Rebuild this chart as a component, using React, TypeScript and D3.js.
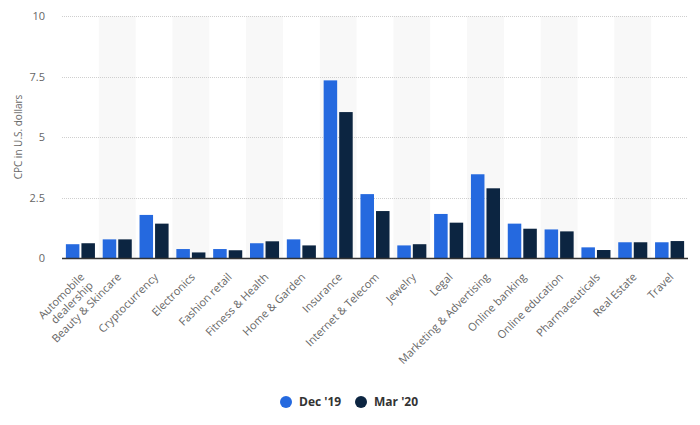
import { useEffect, useRef } from "react"
import * as d3 from "d3"

const categories: string[] = [
  "Automobile dealership",
  "Beauty & Skincare",
  "Cryptocurrency",
  "Electronics",
  "Fashion retail",
  "Fitness & Health",
  "Home & Garden",
  "Insurance",
  "Internet & Telecom",
  "Jewelry",
  "Legal",
  "Marketing & Advertising",
  "Online banking",
  "Online education",
  "Pharmaceuticals",
  "Real Estate",
  "Travel",
]

const seriesNames: string[] = ["Dec '19", "Mar '20"]
const dec19: number[] = [0.57, 0.77, 1.78, 0.37, 0.37, 0.61, 0.77, 7.34, 2.64, 0.52, 1.82, 3.46, 1.42, 1.18, 0.44, 0.65, 0.65]
const mar20: number[] = [0.61, 0.77, 1.42, 0.23, 0.32, 0.69, 0.52, 6.03, 1.94, 0.57, 1.46, 2.88, 1.21, 1.1, 0.33, 0.65, 0.7]
const yTicks: number[] = [0, 2.5, 5, 7.5, 10]
const colors: string[] = ["#2569df", "#0c2541"]

// multi-line label breaks like the original
const labelLines = (c: string) => (c === "Automobile dealership" ? ["Automobile", "dealership"] : [c])

export default function App() {
  const svgRef = useRef<SVGSVGElement>(null)

  useEffect(() => {
    if (!svgRef.current) return
    const svg = d3.select(svgRef.current)
    svg.selectAll("*").remove()

    const width = 700
    const height = 425
    const margin = { top: 16, right: 12, bottom: 167, left: 62 }
    const font = "'Open Sans', 'DejaVu Sans', sans-serif"

    svg.attr("width", width).attr("height", height).attr("viewBox", [0, 0, width, height])

    const x0 = d3.scaleBand<string>().domain(categories).range([margin.left, width - margin.right]).padding(0)
    const x1 = d3.scaleBand<string>().domain(seriesNames).range([0, x0.bandwidth()]).paddingInner(0.13).paddingOuter(0.25)
    const y = d3.scaleLinear().domain([0, 10]).range([height - margin.bottom, margin.top])

    // alternating background bands
    svg
      .selectAll("rect.band")
      .data(categories.filter((_, i) => i % 2 === 1))
      .enter()
      .append("rect")
      .attr("class", "band")
      .attr("x", (d) => x0(d)!)
      .attr("y", margin.top)
      .attr("width", x0.bandwidth())
      .attr("height", y(0) - margin.top)
      .attr("fill", "#f8f8f8")

    // gridlines
    svg
      .selectAll("line.grid")
      .data(yTicks.filter((t) => t > 0))
      .enter()
      .append("line")
      .attr("class", "grid")
      .attr("x1", margin.left)
      .attr("x2", width - margin.right)
      .attr("y1", (d) => Math.round(y(d)) + 0.5)
      .attr("y2", (d) => Math.round(y(d)) + 0.5)
      .attr("stroke", "#cfcfcf")
      .attr("stroke-dasharray", "1,1")

    // y tick labels
    svg
      .selectAll("text.ytick")
      .data(yTicks)
      .enter()
      .append("text")
      .attr("class", "ytick")
      .attr("x", 45)
      .attr("y", (d) => y(d) + 4)
      .attr("text-anchor", "end")
      .attr("font-family", font)
      .attr("font-size", 11)
      .attr("fill", "#666")
      .text((d) => String(d))

    svg
      .append("text")
      .attr("transform", `translate(22,${(margin.top + y(0)) / 2}) rotate(-90)`)
      .attr("text-anchor", "middle")
      .attr("font-family", font)
      .attr("font-size", 10)
      .attr("fill", "#666")
      .text("CPC in U.S. dollars")

    // bars
    const data = [dec19, mar20]
    seriesNames.forEach((s, si) => {
      svg
        .selectAll(`rect.bar${si}`)
        .data(data[si])
        .enter()
        .append("rect")
        .attr("class", `bar${si}`)
        .attr("x", (_, i) => x0(categories[i])! + x1(s)!)
        .attr("y", (d) => y(d))
        .attr("width", x1.bandwidth())
        .attr("height", (d) => y(0) - y(d))
        .attr("fill", colors[si])
    })

    // x axis line
    svg
      .append("line")
      .attr("x1", margin.left)
      .attr("x2", width - margin.right)
      .attr("y1", y(0) + 0.5)
      .attr("y2", y(0) + 0.5)
      .attr("stroke", "#333")
      .attr("stroke-width", 1.5)

    // x labels, rotated
    const lbl = svg
      .selectAll("text.xlabel")
      .data(categories)
      .enter()
      .append("text")
      .attr("class", "xlabel")
      .attr("transform", (d) => `translate(${x0(d)! + x0.bandwidth() / 2 + 2},${y(0) + 17}) rotate(-45)`)
      .attr("text-anchor", "end")
      .attr("font-family", font)
      .attr("font-size", 11)
      .attr("fill", "#666")
    lbl
      .selectAll("tspan")
      .data((d) => labelLines(d))
      .enter()
      .append("tspan")
      .attr("x", 0)
      .attr("dy", (_, i) => (i === 0 ? "0.35em" : "1.1em"))
      .text((d) => d)

    // legend
    const legendItems = [
      { name: seriesNames[0], x: 286 },
      { name: seriesNames[1], x: 361 },
    ]
    const lg = svg
      .selectAll("g.legend")
      .data(legendItems)
      .enter()
      .append("g")
      .attr("class", "legend")
      .attr("transform", (d) => `translate(${d.x},402)`)
    lg.append("circle").attr("r", 6).attr("fill", (_, i) => colors[i])
    lg.append("text")
      .attr("x", 13)
      .attr("y", 4)
      .attr("font-family", font)
      .attr("font-size", 12)
      .attr("font-weight", "bold")
      .attr("fill", "#333")
      .text((d) => d.name)
  }, [])

  return <svg ref={svgRef} style={{ position: "absolute", left: 0, top: 0 }} />
}
